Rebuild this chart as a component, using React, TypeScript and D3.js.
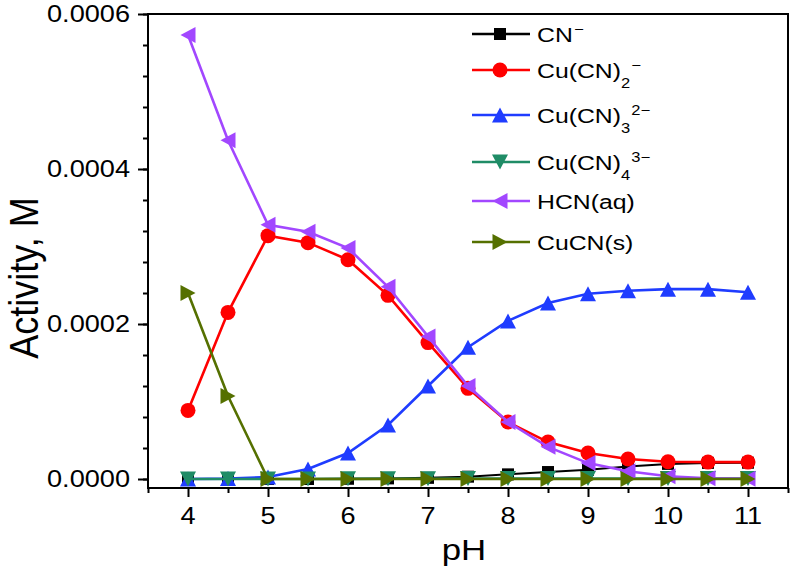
import React, { useEffect, useRef } from 'react';
import * as d3 from 'd3';

const pH = [4, 4.5, 5, 5.5, 6, 6.5, 7, 7.5, 8, 8.5, 9, 9.5, 10, 10.5, 11];

const cn = [0, 0, 0, 0, 0.0000003, 0.0000008, 0.0000015, 0.000003, 0.000006, 0.000009, 0.0000118, 0.000016, 0.0000195, 0.0000208, 0.000021];
const cuCn2 = [0.0000885, 0.000215, 0.000314, 0.000305, 0.000283, 0.000237, 0.000176, 0.000117, 0.0000735, 0.0000477, 0.0000335, 0.0000258, 0.0000222, 0.0000218, 0.0000218];
const cuCn3 = [0, 0.0000005, 0.0000025, 0.000013, 0.0000335, 0.0000697, 0.00012, 0.00017, 0.000204, 0.000227, 0.000239, 0.000243, 0.000245, 0.000245, 0.000241];
const cuCn4 = [0, 0, 0.0000001, 0.0000001, 0.0000002, 0.0000003, 0.0000004, 0.0000005, 0.0000005, 0.0000006, 0.0000006, 0.0000006, 0.0000006, 0.0000006, 0.0000006];
const hcn = [0.000573, 0.000437, 0.000328, 0.000319, 0.000298, 0.000248, 0.000184, 0.00012, 0.0000735, 0.0000415, 0.0000205, 0.00001, 0.0000035, 0.000001, 0.0000003];
const cuCnS = [0.00024, 0.000107, 0, 0, 0, 0, 0, 0, 0, 0, 0, 0, 0, 0, 0];

const seriesValues = [cn, cuCn2, cuCn3, cuCn4, hcn, cuCnS];
const labelBase = ['CN', 'Cu(CN)', 'Cu(CN)', 'Cu(CN)', 'HCN(aq)', 'CuCN(s)'];
const labelSub = ['', '2', '3', '4', '', ''];
const labelSup = ['\u2212', '\u2212', '2\u2212', '3\u2212', '', ''];
const colors = ['#000000', '#ff0000', '#1f3cff', '#1f8c66', '#a247ff', '#557000'];
const shapes = ['square', 'circle', 'up', 'down', 'left', 'right'];

const yTickLabels = ['0.0000', '0.0002', '0.0004', '0.0006'];
const xTickLabels = ['4', '5', '6', '7', '8', '9', '10', '11'];

const FONT = "'Liberation Sans', Arial, sans-serif";
const STRETCH = 1.18;

function markerPath(shape: string): string {
  const w = 16;
  const h = 15;
  switch (shape) {
    case 'square':
      return 'M-6,-6H6V6H-6Z';
    case 'up':
      return `M0,${-h / 2}L${w / 2},${h / 2}L${-w / 2},${h / 2}Z`;
    case 'down':
      return `M0,${h / 2}L${w / 2},${-h / 2}L${-w / 2},${-h / 2}Z`;
    case 'left':
      return `M${-h / 2},0L${h / 2},${-w / 2}L${h / 2},${w / 2}Z`;
    case 'right':
      return `M${h / 2},0L${-h / 2},${-w / 2}L${-h / 2},${w / 2}Z`;
    default:
      return '';
  }
}

const Chart: React.FC = () => {
  const svgRef = useRef<SVGSVGElement>(null);

  useEffect(() => {
    if (!svgRef.current) return;
    const svg = d3.select(svgRef.current);
    svg.selectAll('*').remove();

    const left = 148;
    const right = 788;
    const top = 14;
    const bottom = 488;

    const x = d3.scaleLinear().domain([3.5, 11.5]).range([left, right]);
    const y = d3.scaleLinear().domain([-0.0000116, 0.0006]).range([bottom, top]);

    // frame
    svg.append('rect')
      .attr('x', left)
      .attr('y', top)
      .attr('width', right - left)
      .attr('height', bottom - top)
      .attr('fill', 'none')
      .attr('stroke', '#000')
      .attr('stroke-width', 2);

    // x axis ticks
    const xMajor = xTickLabels.map(Number);
    const xMinor = d3.range(3.5, 11.6, 1);
    const xAxis = svg.append('g').attr('transform', `translate(0,${bottom})`);
    xAxis.append('g')
      .call(d3.axisBottom(x).tickValues(xMinor).tickSize(5).tickFormat(() => ''))
      .call(g => g.select('.domain').remove())
      .selectAll('line').attr('stroke-width', 2);
    xAxis.append('g')
      .call(d3.axisBottom(x).tickValues(xMajor).tickSize(9).tickFormat(() => ''))
      .call(g => g.select('.domain').remove())
      .selectAll('line').attr('stroke-width', 2);

    xTickLabels.forEach(t => {
      svg.append('text')
        .attr('transform', `translate(${x(Number(t))},524) scale(${STRETCH},1)`)
        .attr('text-anchor', 'middle')
        .attr('font-family', FONT)
        .attr('font-size', 23)
        .attr('fill', '#000')
        .text(t);
    });

    // y axis ticks
    const yMajor = yTickLabels.map(Number);
    const yMinor = d3.range(0, 0.00062, 0.00004);
    const yAxis = svg.append('g').attr('transform', `translate(${left},0)`);
    yAxis.append('g')
      .call(d3.axisLeft(y).tickValues(yMinor).tickSize(5).tickFormat(() => ''))
      .call(g => g.select('.domain').remove())
      .selectAll('line').attr('stroke-width', 2);
    yAxis.append('g')
      .call(d3.axisLeft(y).tickValues(yMajor).tickSize(10).tickFormat(() => ''))
      .call(g => g.select('.domain').remove())
      .selectAll('line').attr('stroke-width', 2);

    yTickLabels.forEach(t => {
      svg.append('text')
        .attr('transform', `translate(130,${y(Number(t)) + 8}) scale(${STRETCH},1)`)
        .attr('text-anchor', 'end')
        .attr('font-family', FONT)
        .attr('font-size', 23)
        .attr('fill', '#000')
        .text(t);
    });

    // axis titles
    svg.append('text')
      .attr('transform', `translate(${x(7.5) - 4},560) scale(1.2,1)`)
      .attr('text-anchor', 'middle')
      .attr('font-family', FONT)
      .attr('font-size', 29)
      .text('pH');

    svg.append('text')
      .attr('transform', `translate(38,278) scale(1.15,1) rotate(-90)`)
      .attr('text-anchor', 'middle')
      .attr('font-family', FONT)
      .attr('font-size', 36)
      .text('Activity, M');

    // series
    const line = d3.line<number>()
      .x((_d, i) => x(pH[i]))
      .y(d => y(d));

    seriesValues.forEach((vals, s) => {
      const g = svg.append('g');
      g.append('path')
        .datum(vals)
        .attr('fill', 'none')
        .attr('stroke', colors[s])
        .attr('stroke-width', s === 0 ? 2 : 2.6)
        .attr('d', line);

      vals.forEach((v, i) => {
        if (shapes[s] === 'circle') {
          g.append('circle')
            .attr('cx', x(pH[i]))
            .attr('cy', y(v))
            .attr('r', 7.5)
            .attr('fill', colors[s]);
        } else {
          g.append('path')
            .attr('transform', `translate(${x(pH[i])},${y(v)})`)
            .attr('d', markerPath(shapes[s]))
            .attr('fill', colors[s]);
        }
      });
    });

    // legend
    const legendY = [34, 70, 115, 162, 201, 242];
    labelBase.forEach((name, s) => {
      const ly = legendY[s];
      const g = svg.append('g');
      g.append('line')
        .attr('x1', 472)
        .attr('x2', 530)
        .attr('y1', ly)
        .attr('y2', ly)
        .attr('stroke', colors[s])
        .attr('stroke-width', 2.6);
      if (shapes[s] === 'circle') {
        g.append('circle').attr('cx', 500).attr('cy', ly).attr('r', 7.5).attr('fill', colors[s]);
      } else {
        g.append('path')
          .attr('transform', `translate(500,${ly})`)
          .attr('d', markerPath(shapes[s]))
          .attr('fill', colors[s]);
      }

      const txt = g.append('text')
        .attr('transform', `translate(537,${ly + 8}) scale(${STRETCH},1)`)
        .attr('font-family', FONT)
        .attr('font-size', 21)
        .attr('fill', '#000');
      txt.append('tspan').text(name);
      if (labelSub[s]) {
        txt.append('tspan').attr('y', 10).attr('font-size', 14).text(labelSub[s]);
      }
      if (labelSup[s]) {
        txt.append('tspan')
          .attr('y', -8)
          .attr('dx', 1)
          .attr('font-size', 14)
          .text(labelSup[s]);
      }
    });
  }, []);

  return <svg ref={svgRef} width={792} height={577} style={{ position: 'absolute', left: 0, top: 0, background: '#fff' }} />;
};

export default function App() {
  return <Chart />;
}
